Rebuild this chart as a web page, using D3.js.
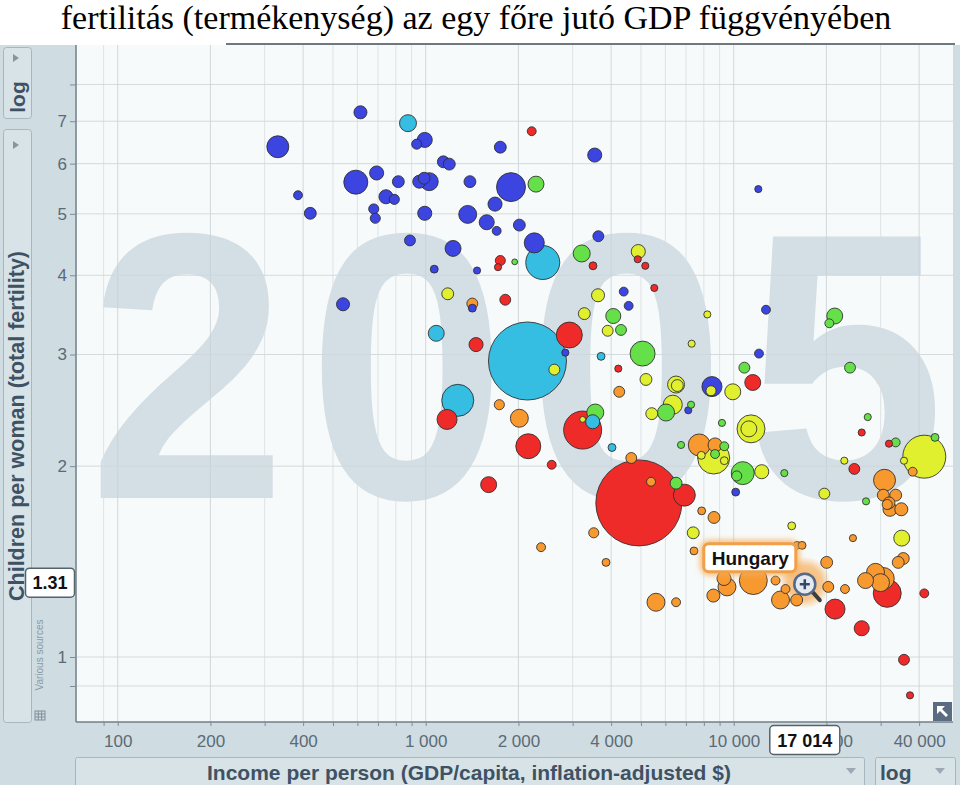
<!DOCTYPE html>
<html><head><meta charset="utf-8">
<script src="https://cdn.jsdelivr.net/npm/d3@7"></script>
<style>body{margin:0;background:#fff;} svg{display:block;}</style>
</head><body>
<svg id="chart" width="960" height="785"></svg>
<script>
// ---------------- DATA ----------------
const chartTitle = "fertilitás (termékenység) az egy főre jutó GDP függvényében";
const yearLabel = "2005";
const xAxisTitle = "Income per person (GDP/capita, inflation-adjusted $)";
const yAxisTitle = "Children per woman (total fertility)";
const xScaleType = "log";
const yScaleType = "log";
const sourceLabel = "Various sources";
const xTickValues = [100, 200, 400, 1000, 2000, 4000, 10000, 20000, 40000];
const xTickLabels = ["100", "200", "400", "1 000", "2 000", "4 000", "10 000", "20 000", "40 000"];
const yTickValues = [1, 2, 3, 4, 5, 6, 7];
const yTickLabels = ["1", "2", "3", "4", "5", "6", "7"];
const regionNames = ["Sub-Saharan Africa", "South Asia", "Middle East & North Africa", "America", "Europe & Central Asia", "East Asia & Pacific"];
const regionColors = ["#3d45e0", "#35bde2", "#66e048", "#e0ef2e", "#f7992f", "#ef2b2a"];

// each entry: [GDP per capita ($), children per woman, population (millions)]
const subSaharanAfrica = [
  [614,7.23,30],[993,6.54,40],[935,6.44,18],[331,6.38,85],[1747,6.37,25],[1141,6.04,25],[1193,5.99,25],
  [593,5.61,102],[693,5.80,35],[815,5.62,25],[953,5.62,30],[1027,5.62,57],[988,5.69,25],[1392,5.62,25],
  [1892,5.51,148],[743,5.32,35],[791,5.27,18],[385,5.35,14],[422,5.01,25],[678,5.09,18],[686,4.92,18],
  [993,5.01,35],[1369,4.99,57],[1679,5.18,35],[1578,4.85,40],[1700,4.70,14],[2014,4.80,25],[2252,4.50,71],
  [889,4.54,21],[1227,4.41,45],[1066,4.09,11],[1468,4.07,9],[1417,3.55,11],[539,3.60,30],[3538,6.19,35],
  [12020,5.47,9],[3635,4.61,21],[4395,3.77,14],[4560,3.58,14],[12730,3.53,14],[8500,2.67,71],[2840,3.02,9],
  [12080,3.01,14],[7120,2.45,9],[10150,1.82,11]
];
const southAsia = [
  [876,6.95,51],[2399,4.19,204],[1082,3.24,45],[2140,2.93,1074],[1271,2.54,181],[3710,2.98,11],[3485,2.35,35],[4026,2.14,11]
];
const middleEastNorthAfrica = [
  [2281,5.57,45],[1945,4.20,6],[3210,4.33,51],[4065,3.45,40],[4306,3.28,21],[21280,3.45,45],[20440,3.36,14],
  [5060,3.01,110],[10830,2.86,21],[6030,2.43,51],[7270,2.50,9],[3553,2.43,51],[9160,2.34,9],[6745,2.16,9],
  [9320,2.15,14],[8700,2.09,14],[10700,1.95,93],[10230,1.93,18],[6500,1.88,25],[23860,2.86,21],[27240,2.39,9],
  [33570,2.18,14],[45040,2.22,11],[26890,1.76,9],[14600,1.95,9]
];
const america = [
  [1179,3.74,25],[4900,4.36,35],[3627,3.72,30],[3273,3.48,25],[3898,3.27,21],[8210,3.47,9],[7303,3.12,9],
  [2616,2.84,21],[5190,2.74,25],[6500,2.69,51],[6560,2.68,25],[8440,2.63,18],[9930,2.62,45],[6340,2.50,64],
  [5420,2.42,25],[11380,2.29,138],[11200,2.29,45],[8610,2.06,181],[7850,2.08,11],[9320,2.04,11],[12330,1.96,35],
  [19690,1.81,21],[22860,2.04,9],[41570,2.07,326],[35720,2.04,9],[15430,1.61,11],[35120,1.54,45],[7390,1.57,25],
  [3233,2.37,6]
];
const europeCentralAsia = [
  [1417,3.61,21],[4250,2.62,21],[1734,2.50,18],[2014,2.38,57],[4650,2.06,21],[5390,1.89,14],[7730,2.16,85],
  [8700,2.16,35],[7870,1.70,11],[8630,1.66,25],[3512,1.57,18],[7430,1.47,11],[2369,1.49,14],[3850,1.41,11],
  [5593,1.22,57],[6500,1.22,14],[8590,1.25,30],[9300,1.33,35],[9510,1.29,57],[11580,1.32,138],[13670,1.32,14],
  [14730,1.28,14],[14190,1.23,57],[16010,1.23,25],[17014,1.31,10],[16050,1.50,11],[16670,1.50,11],[20040,1.41,25],
  [20280,1.29,21],[22980,1.28,14],[26790,1.32,45],[28870,1.36,57],[30600,1.33,85],[29970,1.31,57],[30880,1.90,85],
  [30600,1.80,25],[33570,1.80,25],[31930,1.75,25],[31510,1.74,18],[32170,1.71,35],[35010,1.71,30],[38120,1.96,14],
  [24390,1.54,9],[35530,1.43,25],[34210,1.41,25]
];
const eastAsiaPacific = [
  [2209,6.75,14],[1747,4.22,18],[1717,4.12,9],[1813,3.66,21],[1457,3.11,35],[4880,4.24,9],[3493,4.14,11],
  [5164,4.14,9],[5523,3.82,9],[2926,3.22,119],[4220,2.85,9],[11530,2.71,45],[1173,2.37,71],[3233,2.28,255],
  [2153,2.15,110],[2565,2.01,14],[1601,1.87,45],[4920,1.75,1305],[6914,1.80,85],[26040,2.26,9],[31930,2.17,9],
  [24640,1.98,21],[31510,1.26,138],[21330,1.19,71],[26040,1.11,40],[41570,1.26,14],[35720,0.99,21],[37360,0.87,9]
];
const highlightName = "Hungary";
const highlightGdp = 17014;
const highlightFertility = 1.31;
const highlightGdpLabel = "17 014";
const highlightFertilityLabel = "1.31";

// ---------------- CHART ----------------
const svg = d3.select("#chart");
const plot = {left: 76, right: 953, top: 45, bottom: 722};
const sans = "'Liberation Sans', Arial, Helvetica, sans-serif";
const panelColor = "#cfdce2";
const btnColor = "#d8e3e8";
const btnStroke = "#a6b7c0";

const x = d3.scaleLog().domain([100, 10000]).range([117.7, 733.7]);
const y = d3.scaleLog().domain([1, 10]).range([657, 23]);
const r = d3.scaleSqrt().domain([0, 1305]).range([0, 43]);

const defs = svg.append("defs");
defs.append("clipPath").attr("id", "plotClip").append("rect")
  .attr("x", plot.left).attr("y", plot.top).attr("width", plot.right - plot.left).attr("height", plot.bottom - plot.top);
const blur = defs.append("filter").attr("id", "glow").attr("x", "-50%").attr("y", "-50%").attr("width", "200%").attr("height", "200%");
blur.append("feGaussianBlur").attr("stdDeviation", 3);
const rg = defs.append("radialGradient").attr("id", "halo");
rg.append("stop").attr("offset", "0%").attr("stop-color", "#f7a64a").attr("stop-opacity", 0.8);
rg.append("stop").attr("offset", "65%").attr("stop-color", "#f7a64a").attr("stop-opacity", 0.6);
rg.append("stop").attr("offset", "100%").attr("stop-color", "#f7a64a").attr("stop-opacity", 0);

// backgrounds
svg.append("rect").attr("width", 960).attr("height", 785).attr("fill", "#fff");
svg.append("rect").attr("x", 0).attr("y", plot.top).attr("width", 960).attr("height", 785 - plot.top).attr("fill", panelColor);
svg.append("rect").attr("x", plot.left).attr("y", plot.top).attr("width", plot.right - plot.left)
  .attr("height", plot.bottom - plot.top).attr("fill", "#f7fafa");

// title
svg.append("text").attr("x", 476).attr("y", 29).attr("text-anchor", "middle")
  .attr("font-family", "'Liberation Serif', 'Times New Roman', serif").attr("font-size", 34)
  .attr("fill", "#000").text(chartTitle);
svg.append("line").attr("x1", 226).attr("x2", 955).attr("y1", 44).attr("y2", 44)
  .attr("stroke", "#6e787e").attr("stroke-width", 2);

const plotG = svg.append("g").attr("clip-path", "url(#plotClip)");

// year watermark
plotG.append("text").attr("transform", "scale(0.94,1)").attr("x", 94).attr("y", 498)
  .attr("font-family", sans).attr("font-weight", "bold").attr("font-size", 380)
  .attr("letter-spacing", 22).attr("fill", "#d3dee5").text(yearLabel);

// grid
const xGridVals = x.copy().domain([90, 45000]).ticks();
const yGridVals = y.copy().domain([0.9, 8]).ticks();
plotG.append("g").selectAll("line").data(xGridVals).join("line")
  .attr("x1", d => x(d)).attr("x2", d => x(d)).attr("y1", plot.top).attr("y2", plot.bottom)
  .attr("stroke", d => xTickValues.includes(d) ? "#c9d2d6" : "#d8dfe2").attr("stroke-opacity", 0.85).attr("stroke-width", 1);
plotG.append("g").selectAll("line").data(yGridVals).join("line")
  .attr("x1", plot.left).attr("x2", plot.right).attr("y1", d => y(d)).attr("y2", d => y(d))
  .attr("stroke", "#cfd7db").attr("stroke-opacity", 0.9).attr("stroke-width", 1);

// bubbles
const groups = [subSaharanAfrica, southAsia, middleEastNorthAfrica, america, europeCentralAsia, eastAsiaPacific];
const bubbles = [];
groups.forEach((g, i) => g.forEach(d => bubbles.push({gdp: d[0], fert: d[1], pop: d[2], region: i})));
bubbles.sort((a, b) => b.pop - a.pop);

// highlight halo
plotG.append("circle").attr("cx", x(highlightGdp)).attr("cy", y(highlightFertility)).attr("r", 26)
  .attr("fill", "url(#halo)");

plotG.append("g").selectAll("circle").data(bubbles).join("circle")
  .attr("cx", d => x(d.gdp)).attr("cy", d => y(d.fert)).attr("r", d => r(d.pop))
  .attr("fill", d => regionColors[d.region]).attr("stroke", "#2b2b2b").attr("stroke-opacity", 0.85)
  .attr("stroke-width", 1);

// plot frame lines
svg.append("line").attr("x1", plot.left).attr("x2", plot.left).attr("y1", plot.top).attr("y2", plot.bottom)
  .attr("stroke", "#6f7f88").attr("stroke-width", 1.5);
svg.append("line").attr("x1", plot.left).attr("x2", plot.right).attr("y1", plot.bottom).attr("y2", plot.bottom)
  .attr("stroke", "#6f7f88").attr("stroke-width", 1.5);

// y axis
const yAxis = d3.axisLeft(y).tickValues(yGridVals).tickSize(6).tickPadding(3)
  .tickFormat(d => { const i = yTickValues.indexOf(d); return i >= 0 ? yTickLabels[i] : ""; });
const gy = svg.append("g").attr("transform", `translate(${plot.left},0)`).call(yAxis);
gy.select(".domain").remove();
gy.selectAll(".tick line").attr("stroke", "#7d8c95");
gy.selectAll(".tick text").attr("font-family", sans).attr("font-size", 17).attr("fill", "#5b6b76");

// x axis
const xAxis = d3.axisBottom(x).tickValues(xGridVals.filter(d => d >= 90 && d <= 40000)).tickSize(4).tickPadding(9)
  .tickFormat(d => { const i = xTickValues.indexOf(d); return i >= 0 ? xTickLabels[i] : ""; });
const gx = svg.append("g").attr("transform", `translate(0,${plot.bottom})`).call(xAxis);
gx.select(".domain").remove();
gx.selectAll(".tick line").attr("stroke", "#7d8c95");
gx.selectAll(".tick text").attr("font-family", sans).attr("font-size", 17).attr("fill", "#5b6b76");

// left panel buttons
svg.append("rect").attr("x", 3.5).attr("y", 47.5).attr("width", 28).attr("height", 71).attr("rx", 3)
  .attr("fill", btnColor).attr("stroke", btnStroke);
svg.append("path").attr("d", "M13,54 L19,58 L13,62 Z").attr("fill", "#8696a0");
svg.append("text").attr("transform", "translate(17,97) rotate(-90)").attr("text-anchor", "middle")
  .attr("dominant-baseline", "central").attr("font-family", sans).attr("font-weight", "bold")
  .attr("font-size", 21).attr("fill", "#3e5264").text(yScaleType);
svg.append("rect").attr("x", 3.5).attr("y", 129.5).attr("width", 28).attr("height", 593).attr("rx", 3)
  .attr("fill", btnColor).attr("stroke", btnStroke);
svg.append("path").attr("d", "M13,141 L19,145 L13,149 Z").attr("fill", "#8696a0");
svg.append("text").attr("transform", "translate(17,426) rotate(-90)").attr("text-anchor", "middle")
  .attr("dominant-baseline", "central").attr("font-family", sans).attr("font-weight", "bold")
  .attr("font-size", 21.5).attr("fill", "#3e5264").text(yAxisTitle);
svg.append("text").attr("transform", "translate(39,655) rotate(-90)").attr("text-anchor", "middle")
  .attr("dominant-baseline", "central").attr("font-family", sans)
  .attr("font-size", 10).attr("fill", "#8a9ba6").text(sourceLabel);
// small table icon
const ic = svg.append("g").attr("transform", "translate(35,711)");
ic.append("rect").attr("width", 10).attr("height", 9).attr("fill", "none").attr("stroke", "#7f8f99");
[3.3, 6.6].forEach(v => ic.append("line").attr("x1", v).attr("x2", v).attr("y1", 0).attr("y2", 9).attr("stroke", "#7f8f99"));
[3, 6].forEach(v => ic.append("line").attr("x1", 0).attr("x2", 10).attr("y1", v).attr("y2", v).attr("stroke", "#7f8f99"));

// bottom dropdowns
svg.append("rect").attr("x", 75.5).attr("y", 757.5).attr("width", 789).attr("height", 30).attr("rx", 2)
  .attr("fill", btnColor).attr("stroke", btnStroke);
svg.append("text").attr("x", 469).attr("y", 780).attr("text-anchor", "middle").attr("font-family", sans)
  .attr("font-weight", "bold").attr("font-size", 21).attr("fill", "#3e5264").text(xAxisTitle);
svg.append("path").attr("d", "M846,768 L856,768 L851,774 Z").attr("fill", "#9aa9b3");
svg.append("rect").attr("x", 875.5).attr("y", 757.5).attr("width", 80).attr("height", 30).attr("rx", 2)
  .attr("fill", btnColor).attr("stroke", btnStroke);
svg.append("text").attr("x", 880).attr("y", 780).attr("font-family", sans)
  .attr("font-weight", "bold").attr("font-size", 21).attr("fill", "#3e5264").text(xScaleType);
svg.append("path").attr("d", "M935,768 L945,768 L940,774 Z").attr("fill", "#9aa9b3");

// bottom-right icon
svg.append("rect").attr("x", 933).attr("y", 702).attr("width", 19).attr("height", 19).attr("fill", "#5b6c82");
svg.append("path").attr("d", "M937,706 L945,706 L942,709 L948,715 L946,717 L940,711 L937,714 Z").attr("fill", "#fff");

// value boxes on axes
const fy = y(highlightFertility);
svg.append("rect").attr("x", 25.5).attr("y", fy - 14.5).attr("width", 49).attr("height", 29).attr("rx", 4)
  .attr("fill", "#fff").attr("stroke", "#55636c").attr("stroke-width", 1.5);
svg.append("text").attr("x", 50).attr("y", fy + 6.5).attr("text-anchor", "middle").attr("font-family", sans)
  .attr("font-weight", "bold").attr("font-size", 18).attr("fill", "#111").text(highlightFertilityLabel);
const fx = x(highlightGdp);
svg.append("rect").attr("x", fx - 35).attr("y", 725.5).attr("width", 70).attr("height", 29).attr("rx", 4)
  .attr("fill", "#fff").attr("stroke", "#55636c").attr("stroke-width", 1.5);
svg.append("text").attr("x", fx).attr("y", 747).attr("text-anchor", "middle").attr("font-family", sans)
  .attr("font-weight", "bold").attr("font-size", 18).attr("fill", "#111").text(highlightGdpLabel);

// highlight label + magnifier
const lab = svg.append("g");
lab.append("rect").attr("x", fx - 101).attr("y", fy - 39).attr("width", 92).attr("height", 28).attr("rx", 5)
  .attr("fill", "none").attr("stroke", "#f5ad55").attr("stroke-width", 6).attr("filter", "url(#glow)");
lab.append("rect").attr("x", fx - 101).attr("y", fy - 39).attr("width", 92).attr("height", 28).attr("rx", 5)
  .attr("fill", "#fff").attr("stroke", "#f0a048").attr("stroke-width", 3);
lab.append("text").attr("x", fx - 93).attr("y", fy - 18).attr("font-family", sans).attr("font-weight", "bold")
  .attr("font-size", 19).attr("fill", "#111").text(highlightName);
const mg = svg.append("g").attr("transform", `translate(${fx},${fy + 1.5})`);
mg.append("line").attr("x1", 7).attr("y1", 7).attr("x2", 15).attr("y2", 16).attr("stroke", "#3d3d3d")
  .attr("stroke-width", 4).attr("stroke-linecap", "round");
mg.append("circle").attr("r", 10.5).attr("fill", "#e3eaf2").attr("stroke", "#56698a").attr("stroke-width", 2.5);
mg.append("path").attr("d", "M-5,0 H5 M0,-5 V5").attr("stroke", "#34476a").attr("stroke-width", 2.5);
</script>
</body></html>
